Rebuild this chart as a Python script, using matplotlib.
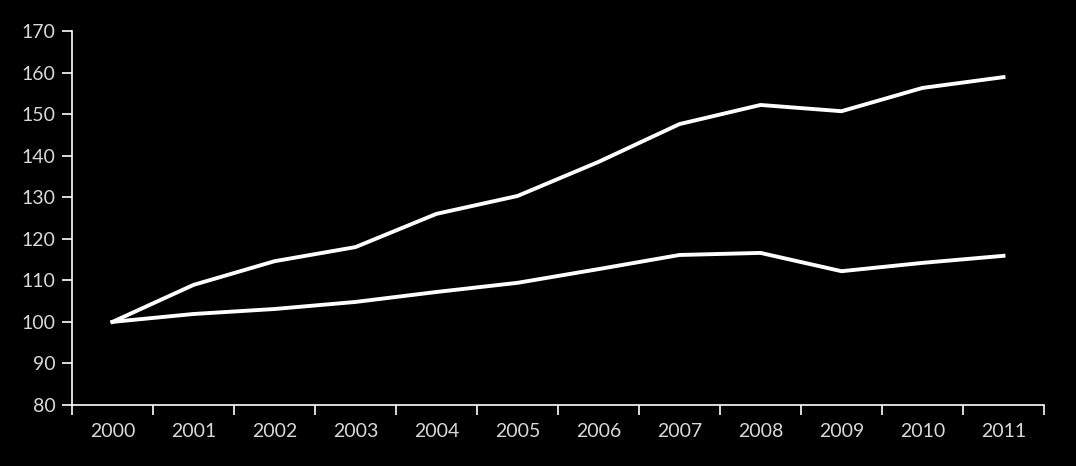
import matplotlib
matplotlib.use("Agg")
import matplotlib.pyplot as plt
import numpy as np

years = ["2000", "2001", "2002", "2003", "2004", "2005",
         "2006", "2007", "2008", "2009", "2010", "2011"]
upper = [100, 108.9, 114.6, 118.0, 126.0, 130.3, 138.5, 147.6, 152.2, 150.7, 156.3, 158.9]
lower = [100, 101.9, 103.1, 104.8, 107.2, 109.4, 112.7, 116.1, 116.6, 112.2, 114.2, 115.9]

plt.rcParams['font.family'] = ['Lato', 'DejaVu Sans']

fig = plt.figure(figsize=(10.76, 4.66), dpi=100, facecolor='black')
ax = fig.add_axes([72/1076, 1 - 405/466, 972/1076, 374/466])
ax.set_facecolor('black')

x = np.arange(len(years))
ax.plot(x, upper, color='white', lw=2.8, solid_joinstyle='round')
ax.plot(x, lower, color='white', lw=2.8, solid_joinstyle='round')

ax.set_xlim(-0.5, len(years) - 0.5)
ax.set_ylim(80, 170)
ax.set_yticks(np.arange(80, 171, 10))

# ticks on the category boundaries, labels centred
ax.set_xticks(np.arange(-0.5, len(years), 1))
ax.set_xticklabels([])
ax.set_xticks(x, minor=True)
ax.set_xticklabels(years, minor=True)
ax.tick_params(axis='x', which='minor', length=0, pad=13)
ax.tick_params(axis='x', which='major', length=7, width=1.2, color='white', direction='out')
ax.tick_params(axis='y', length=7, width=1.2, color='white', direction='out', pad=5)
ax.tick_params(axis='both', which='both', labelcolor='#d9d9d9', labelsize=14)

for s in ['top', 'right']:
    ax.spines[s].set_visible(False)
for s in ['left', 'bottom']:
    ax.spines[s].set_color('white')
    ax.spines[s].set_linewidth(1.2)

fig.savefig('out.png', dpi=100, facecolor='black')
